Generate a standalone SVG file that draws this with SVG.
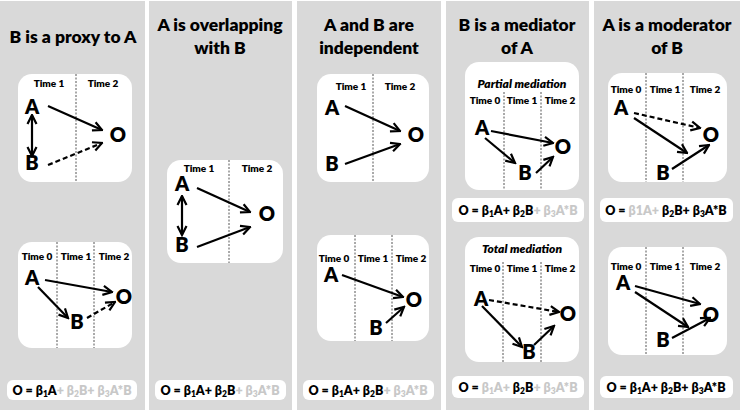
<svg xmlns="http://www.w3.org/2000/svg" width="740" height="411" viewBox="0 0 740 411">
<defs>
<marker id="ah" viewBox="0 0 12 12" refX="10.5" refY="6" markerWidth="12" markerHeight="12" markerUnits="userSpaceOnUse" orient="auto-start-reverse">
<path d="M1.5,1.5 L10.5,6 L1.5,10.5" fill="none" stroke="#000" stroke-width="2.2" stroke-linejoin="miter"/>
</marker>
<style>
.panel{fill:#d9d9d9}
.box{fill:#fff}
.title{font-family:Lato,"Liberation Sans",sans-serif;font-weight:800;font-size:17.5px;text-anchor:middle;fill:#000}
.time{font-family:Lato,"Liberation Sans",sans-serif;font-weight:800;font-size:10px;text-anchor:middle;fill:#000}
.sub{font-family:Lato,"Liberation Sans",sans-serif;font-weight:800;font-style:italic;font-size:12px;text-anchor:middle;fill:#000}
.node{font-family:Lato,"Liberation Sans",sans-serif;font-weight:800;font-size:20px;text-anchor:middle;fill:#000}
.eq{font-family:Lato,"Liberation Sans",sans-serif;font-weight:800;font-size:12.5px;text-anchor:middle;fill:#000}
.g{fill:#c8c8c8}
.s{font-size:8.5px}
.div{stroke:#555;stroke-width:1;stroke-dasharray:2 1.5}
.arr{stroke:#000;stroke-width:2.2;fill:none;marker-end:url(#ah)}
.dbl{marker-start:url(#ah)}
.dash{stroke-dasharray:5 3}
</style>
</defs>
<rect width="740" height="411" fill="#fff"/>
<g id="panels">
<rect class="panel" x="0" y="1" width="145" height="409"/>
<rect class="panel" x="149" y="1" width="143" height="409"/>
<rect class="panel" x="297" y="1" width="144" height="409"/>
<rect class="panel" x="446" y="1" width="143" height="409"/>
<rect class="panel" x="594" y="1" width="146" height="409"/>
</g>
<g id="titles">
<text class="title" x="73" y="43">B is a proxy to A</text>
<text class="title" x="220" y="31">A is overlapping</text>
<text class="title" x="220" y="54">with B</text>
<text class="title" x="369" y="31">A and B are</text>
<text class="title" x="369" y="54">independent</text>
<text class="title" x="517" y="31">B is a mediator</text>
<text class="title" x="517" y="54">of A</text>
<text class="title" x="667" y="31">A is a moderator</text>
<text class="title" x="667" y="54">of B</text>
</g>
<g id="c1top">
<rect class="box" x="18" y="74" width="114" height="108" rx="14"/>
<line class="div" x1="76" y1="74" x2="76" y2="182"/>
<text class="time" x="49" y="87">Time 1</text>
<text class="time" x="103" y="87">Time 2</text>
<text class="node" x="32" y="114">A</text>
<text class="node" x="32" y="170">B</text>
<text class="node" x="118" y="142">O</text>
</g>
<g id="c1bot">
<rect class="box" x="18" y="242" width="114" height="106" rx="14"/>
<line class="div" x1="57" y1="242" x2="57" y2="348"/>
<line class="div" x1="94" y1="242" x2="94" y2="348"/>
<text class="time" x="37" y="260">Time 0</text>
<text class="time" x="76" y="260">Time 1</text>
<text class="time" x="114" y="260">Time 2</text>
<text class="node" x="32" y="285">A</text>
<text class="node" x="124" y="304">O</text>
<text class="node" x="77" y="329">B</text>
</g>
<g id="c1eq">
<rect class="box" x="7" y="380" width="130" height="20" rx="6"/>
<text class="eq" x="72" y="395">O = β<tspan class="s" baseline-shift="-2">1</tspan>A<tspan class="g">+ β<tspan class="s" baseline-shift="-2">2</tspan>B+ β<tspan class="s" baseline-shift="-2">3</tspan>A*B</tspan></text>
</g>
<g id="c2">
<rect class="box" x="167" y="160" width="116" height="103" rx="14"/>
<line class="div" x1="229" y1="160" x2="229" y2="263"/>
<text class="time" x="199" y="172">Time 1</text>
<text class="time" x="257" y="172">Time 2</text>
<text class="node" x="182" y="191">A</text>
<text class="node" x="182" y="252">B</text>
<text class="node" x="267" y="221">O</text>
</g>
<g id="c2eq">
<rect class="box" x="155" y="380" width="131" height="20" rx="6"/>
<text class="eq" x="220" y="395">O = β<tspan class="s" baseline-shift="-2">1</tspan>A+ β<tspan class="s" baseline-shift="-2">2</tspan>B<tspan class="g">+ β<tspan class="s" baseline-shift="-2">3</tspan>A*B</tspan></text>
</g>
<g id="c3top">
<rect class="box" x="317" y="74" width="112" height="108" rx="14"/>
<line class="div" x1="373" y1="74" x2="373" y2="182"/>
<text class="time" x="351" y="90">Time 1</text>
<text class="time" x="400" y="90">Time 2</text>
<text class="node" x="332" y="115">A</text>
<text class="node" x="416" y="142">O</text>
<text class="node" x="332" y="171">B</text>
</g>
<g id="c3bot">
<rect class="box" x="317" y="235" width="112" height="106" rx="14"/>
<line class="div" x1="355" y1="235" x2="355" y2="341"/>
<line class="div" x1="392" y1="235" x2="392" y2="341"/>
<text class="time" x="334" y="262">Time 0</text>
<text class="time" x="373" y="262">Time 1</text>
<text class="time" x="411" y="262">Time 2</text>
<text class="node" x="331" y="282">A</text>
<text class="node" x="414" y="307">O</text>
<text class="node" x="376" y="335">B</text>
</g>
<g id="c3eq">
<rect class="box" x="303" y="380" width="131" height="20" rx="6"/>
<text class="eq" x="368" y="395">O = β<tspan class="s" baseline-shift="-2">1</tspan>A+ β<tspan class="s" baseline-shift="-2">2</tspan>B<tspan class="g">+ β<tspan class="s" baseline-shift="-2">3</tspan>A*B</tspan></text>
</g>
<g id="c4top">
<rect class="box" x="465" y="62" width="114" height="128" rx="14"/>
<text class="sub" x="522" y="88">Partial mediation</text>
<line class="div" x1="504" y1="92" x2="504" y2="190"/>
<line class="div" x1="541" y1="92" x2="541" y2="190"/>
<text class="time" x="485" y="104">Time 0</text>
<text class="time" x="522" y="104">Time 1</text>
<text class="time" x="560" y="104">Time 2</text>
<text class="node" x="482" y="135">A</text>
<text class="node" x="563" y="154">O</text>
<text class="node" x="525" y="180">B</text>
</g>
<g id="c4eq1">
<rect class="box" x="452" y="198" width="132" height="24" rx="6"/>
<text class="eq" x="518" y="215">O = β<tspan class="s" baseline-shift="-2">1</tspan>A+ β<tspan class="s" baseline-shift="-2">2</tspan>B<tspan class="g">+ β<tspan class="s" baseline-shift="-2">3</tspan>A*B</tspan></text>
</g>
<g id="c4bot">
<rect class="box" x="465" y="237" width="114" height="125" rx="14"/>
<text class="sub" x="522" y="253">Total mediation</text>
<line class="div" x1="503" y1="262" x2="503" y2="362"/>
<line class="div" x1="541" y1="262" x2="541" y2="362"/>
<text class="time" x="485" y="272">Time 0</text>
<text class="time" x="522" y="272">Time 1</text>
<text class="time" x="560" y="272">Time 2</text>
<text class="node" x="481" y="306">A</text>
<text class="node" x="568" y="321">O</text>
<text class="node" x="529" y="359">B</text>
</g>
<g id="c4eq2">
<rect class="box" x="452" y="376" width="132" height="22" rx="6"/>
<text class="eq" x="518" y="392">O = <tspan class="g">β<tspan class="s" baseline-shift="-2">1</tspan>A+ </tspan>β<tspan class="s" baseline-shift="-2">2</tspan>B<tspan class="g">+ β<tspan class="s" baseline-shift="-2">3</tspan>A*B</tspan></text>
</g>
<g id="c5top">
<rect class="box" x="608" y="73" width="119" height="109" rx="14"/>
<line class="div" x1="646" y1="73" x2="646" y2="182"/>
<line class="div" x1="683" y1="73" x2="683" y2="182"/>
<text class="time" x="626" y="93">Time 0</text>
<text class="time" x="665" y="93">Time 1</text>
<text class="time" x="705" y="93">Time 2</text>
<text class="node" x="621" y="115">A</text>
<text class="node" x="711" y="142">O</text>
<text class="node" x="663" y="180">B</text>
</g>
<g id="c5eq1">
<rect class="box" x="600" y="198" width="133" height="24" rx="6"/>
<text class="eq" x="666" y="215">O = <tspan class="g">β1A+ </tspan>β<tspan class="s" baseline-shift="-2">2</tspan>B+ β<tspan class="s" baseline-shift="-2">3</tspan>A*B</text>
</g>
<g id="c5bot">
<rect class="box" x="608" y="247" width="119" height="108" rx="14"/>
<line class="div" x1="646" y1="247" x2="646" y2="355"/>
<line class="div" x1="683" y1="247" x2="683" y2="355"/>
<text class="time" x="626" y="270">Time 0</text>
<text class="time" x="665" y="270">Time 1</text>
<text class="time" x="705" y="270">Time 2</text>
<text class="node" x="623" y="290">A</text>
<text class="node" x="711" y="322">O</text>
<text class="node" x="663" y="347">B</text>
</g>
<g id="c5eq2">
<rect class="box" x="600" y="376" width="133" height="22" rx="6"/>
<text class="eq" x="666" y="392">O = β<tspan class="s" baseline-shift="-2">1</tspan>A+ β<tspan class="s" baseline-shift="-2">2</tspan>B+ β<tspan class="s" baseline-shift="-2">3</tspan>A*B</text>
</g>
<g id="connectors">
<path class="arr" d="M48,106 L102,130"/>
<path class="arr dbl" d="M32,115 L32,156"/>
<path class="arr dash" d="M48,165 L102,143"/>
<path class="arr" d="M45,280 L112,292"/>
<path class="arr" d="M38,287 L68,318"/>
<path class="arr dash" d="M87,318 L115,302"/>
<path class="arr" d="M197,188 L250,212"/>
<path class="arr" d="M197,247 L250,227"/>
<path class="arr dbl" d="M182,196 L182,235"/>
<path class="arr" d="M345,106 L400,131"/>
<path class="arr" d="M345,164 L400,144"/>
<path class="arr" d="M342,275 L403,297"/>
<path class="arr" d="M386,323 L404,307"/>
<path class="arr" d="M491,131 L553,143"/>
<path class="arr" d="M485,138 L515,163"/>
<path class="arr" d="M536,173 L553,157"/>
<path class="arr dash" d="M489,300 L559,312"/>
<path class="arr" d="M482,306 L522,347"/>
<path class="arr" d="M534,345 L554,326"/>
<path class="arr dash" d="M634,113 L700,128"/>
<path class="arr" d="M634,118 L687,153"/>
<path class="arr" d="M672,169 L709,145"/>
<path class="arr" d="M635,286 L700,304"/>
<path class="arr" d="M635,292 L688,327"/>
<path class="arr" d="M672,338 L710,318"/>
</g>
</svg>
